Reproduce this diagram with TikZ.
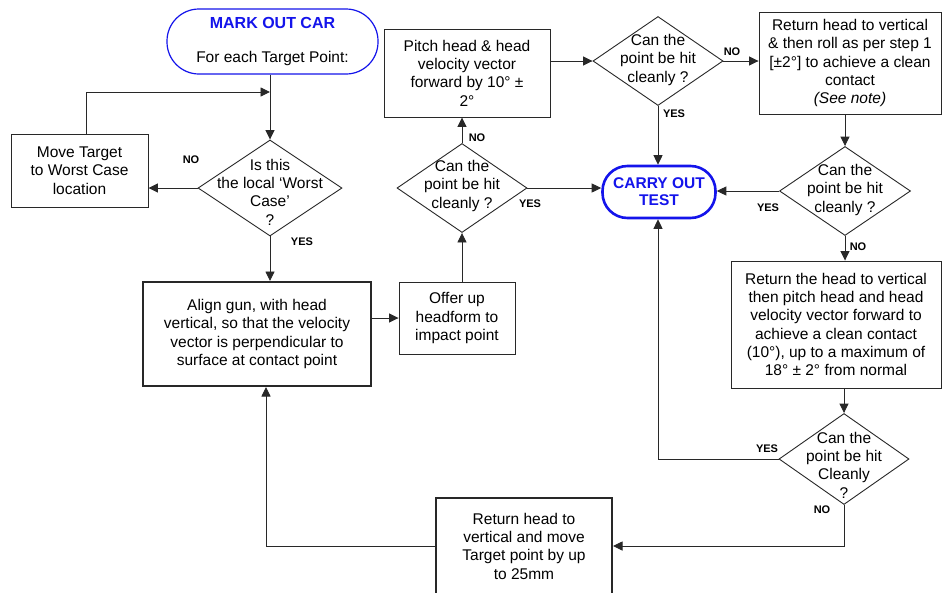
\documentclass[tikz,border=0pt]{standalone}
\usepackage{fontspec}
\setmainfont{Liberation Sans}
\usetikzlibrary{shapes.geometric,arrows.meta}
\definecolor{lineclr}{RGB}{40,40,40}
\definecolor{tblue}{RGB}{20,20,235}
\newcommand\dtext[2]{\smash{\makebox[0pt]{\raisebox{#1}{\begin{tabular}{@{}c@{}}#2\end{tabular}}}}}
\begin{document}
\begin{tikzpicture}[x=1pt,y=-1pt,
  every node/.style={font=\fontsize{15.5}{18.3}\selectfont},
  box/.style={draw=lineclr, line width=0.9pt, rectangle, inner sep=0pt, align=center},
  dia/.style={draw=lineclr, line width=0.9pt, diamond, inner sep=0pt},
  lbl/.style={font=\fontsize{11}{12}\selectfont\bfseries, inner sep=0pt},
  arr/.style={draw=lineclr, line width=0.9pt, -{Triangle[length=9.5pt,width=9pt]}},
]
\useasboundingbox (0,0) rectangle (947,592);
\clip (0,0) rectangle (947,592);
\fill[white] (0,0) rectangle (947,592);

% terminals
\node[draw=tblue, line width=1.2pt, rounded corners=32pt, minimum width=211, minimum height=65,
      inner sep=0pt, align=center] (start) at (272.5,41.5)
      {\textcolor{tblue}{\fontsize{16}{18}\selectfont\bfseries MARK OUT CAR}\\[15pt]For each Target Point:};
\node[draw=tblue, line width=2.6pt, rounded corners=25pt, minimum width=113, minimum height=52,
      inner sep=0pt, align=center, text=tblue, font=\fontsize{15.5}{17}\selectfont\bfseries]
      (carry) at (659,192) {CARRY OUT\\TEST};

% process boxes
\node[box, minimum width=137, minimum height=73] (mt) at (79.5,170.5) {Move Target\\to Worst Case\\location};
\node[box, minimum width=166, minimum height=88] (pitch) at (467,73) {Pitch head \& head\\velocity vector\\forward by 10° ±\\2°};
\node[box, minimum width=182, minimum height=102] (r1) at (850,63)
  {Return head to vertical\\\& then roll as per step 1\\{}[±2°] to achieve a clean\\contact\\\textit{(See note)}};
\node[box, line width=2pt, minimum width=228, minimum height=104] (align) at (257,334)
  {Align gun, with head\\vertical, so that the velocity\\vector is perpendicular to\\surface at contact point};
\node[box, minimum width=116, minimum height=72] (offer) at (457,318) {Offer up\\headform to\\impact point};
\node[box, minimum width=210, minimum height=127] (r2) at (836,324.5)
  {Return the head to vertical\\then pitch head and head\\velocity vector forward to\\achieve a clean contact\\(10°), up to a maximum of\\18° ± 2° from normal};
\node[box, line width=2pt, minimum width=176, minimum height=96] (bot) at (524,546)
  {Return head to\\vertical and move\\Target point by up\\to 25mm};

% decisions
\node[dia, minimum width=144, minimum height=96] (d1) at (270,188) {\dtext{-9.75pt}{Is this\\the local ‘Worst\\Case’\\?}};
\node[dia, minimum width=130, minimum height=89] (d2) at (462,188) {\dtext{-1.75pt}{Can the\\point be hit\\cleanly ?}};
\node[dia, minimum width=130, minimum height=89] (d4) at (658,61) {\dtext{-2.75pt}{Can the\\point be hit\\cleanly ?}};
\node[dia, minimum width=131, minimum height=89] (d5) at (845,191) {\dtext{-2.75pt}{Can the\\point be hit\\cleanly ?}};
\node[dia, minimum width=130, minimum height=91] (d6) at (844,459) {\dtext{-11.75pt}{Can the\\point be hit\\Cleanly\\?}};

% connectors
\coordinate (j1) at (270,92);
\draw[arr] (start.south -| d1.north) -- (d1.north);
\draw[arr] ([xshift=6.5pt]mt.north) |- (j1);
\draw[arr] (d1.west) -- (d1.west -| mt.east);
\draw[arr] (d1.south) -- (d1.south |- align.north);
\draw[arr] (offer.west -| align.east) -- (offer.west);
\draw[arr] (d2.south |- offer.north) -- (d2.south);
\draw[arr] (d2.north) -- (d2.north |- pitch.south);
\draw[arr] (d2.east) -- (d2.east -| carry.west);
\draw[arr] (d4.west -| pitch.east) -- (d4.west);
\draw[arr] (d4.south) -- (d4.south |- carry.north);
\draw[arr] (d4.east) -- (d4.east -| r1.west);
\draw[arr] (d5.north |- r1.south) -- (d5.north);
\draw[arr] (d5.west) -- (d5.west -| carry.east);
\draw[arr] (d5.south) -- (d5.south |- r2.north);
\draw[arr] (d6.north |- r2.south) -- (d6.north);
\draw[arr] (d6.west) -| ([xshift=-1pt]carry.south);
\draw[arr] (d6.south) |- (bot.east);
\draw[arr] (bot.west) -| ([xshift=9pt]align.south);

% labels
\node[lbl] (n1) at (191,160) {NO};
\node[lbl] (y1) at (302,242) {YES};
\node[lbl] (n2) at (477,138) {NO};
\node[lbl] (y2) at (530,204) {YES};
\node[lbl] (y4) at (674,114) {YES};
\node[lbl] (n4) at (732,52) {NO};
\node[lbl] (y5) at (768,208) {YES};
\node[lbl] (n5) at (858,247) {NO};
\node[lbl] (y6) at (767,449) {YES};
\node[lbl] (n6) at (822,510) {NO};
\end{tikzpicture}
\end{document}
